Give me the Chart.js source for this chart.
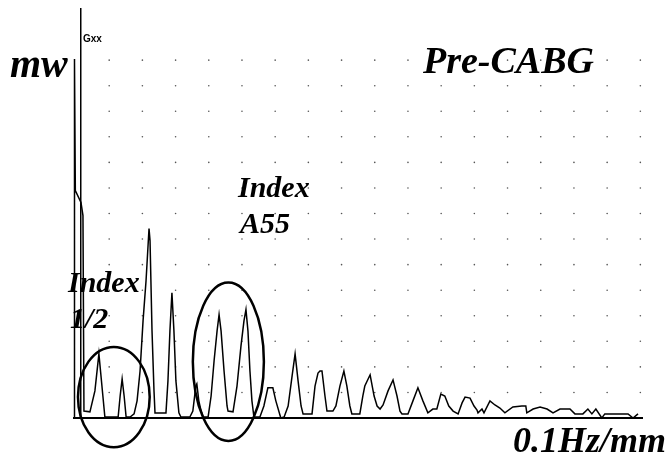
<!DOCTYPE html>
<html><head><meta charset="utf-8">
<script src="https://cdn.jsdelivr.net/npm/chart.js@4.4.0/dist/chart.umd.min.js"></script>
<style>html,body{margin:0;padding:0;background:#fff}canvas{display:block}</style>
</head><body>
<canvas id="c" width="672" height="459"></canvas>
<script>
// frequency (grid units, 0.1 Hz/mm scale) and power (mw, grid units)
const freq = [-0.06,-0.05,-0.04,-0.02,0.15,0.21,0.24,0.42,0.57,0.69,0.81,0.87,1.27,1.33,1.39,1.45,1.51,1.63,1.75,1.84,1.93,2.02,2.11,2.20,2.23,2.29,2.35,2.38,2.71,2.77,2.83,2.89,2.95,3.01,3.10,3.16,3.43,3.52,3.61,3.64,3.70,3.77,3.83,3.98,4.07,4.16,4.25,4.31,4.37,4.46,4.55,4.58,4.73,4.85,4.97,5.06,5.12,5.18,5.24,5.30,5.36,5.54,5.66,5.78,5.93,6.02,6.17,6.27,6.39,6.51,6.60,6.69,6.78,6.84,7.11,7.20,7.29,7.35,7.41,7.50,7.56,7.74,7.83,7.95,8.07,8.16,8.25,8.31,8.55,8.64,8.70,8.86,8.98,9.07,9.16,9.25,9.40,9.55,9.67,9.76,9.82,10.00,10.15,10.30,10.45,10.60,10.75,10.87,10.99,11.11,11.23,11.36,11.51,11.63,11.72,11.87,11.99,12.08,12.11,12.23,12.29,12.47,12.62,12.77,12.92,13.16,13.43,13.55,13.58,13.77,13.98,14.19,14.37,14.58,14.88,15.03,15.27,15.42,15.54,15.66,15.84,15.93,16.63,16.78,16.93];
const power = [0,14.04,13.92,8.90,8.43,7.92,0.27,0.24,1.06,2.51,0.86,0.04,0.04,0.86,1.53,0.86,0.04,0.04,0.16,0.67,1.84,3.80,5.37,7.41,6.94,3.41,1.06,0.20,0.20,1.45,3.41,4.90,3.41,1.45,0.20,0.04,0.04,0.27,1.25,1.33,0.67,0.27,0.04,0.04,0.86,2.24,3.41,4.04,3.41,1.84,0.47,0.27,0.24,1.25,2.82,3.80,4.24,3.41,1.84,0.67,0.04,0.04,0.47,1.18,1.18,0.67,0,0.04,0.47,1.65,2.51,1.45,0.47,0.16,0.16,1.25,1.76,1.84,1.84,0.86,0.27,0.27,0.47,1.25,1.84,1.25,0.47,0.16,0.16,0.86,1.25,1.69,0.86,0.47,0.35,0.51,1.06,1.49,0.86,0.27,0.16,0.16,0.67,1.18,0.67,0.20,0.35,0.35,0.94,0.86,0.47,0.27,0.16,0.59,0.82,0.78,0.47,0.31,0.20,0.35,0.20,0.67,0.51,0.39,0.20,0.43,0.47,0.47,0.20,0.35,0.43,0.35,0.20,0.35,0.35,0.16,0.16,0.35,0.16,0.35,0,0.16,0.16,0,0.16];
const gridX = [1,2,3,4,5,6,7,8,9,10,11,12,13,14,15,16,17];
const gridY = [1,2,3,4,5,6,7,8,9,10,11,12,13,14];

const trace = freq.map((f, i) => ({x: f, y: power[i]}));
const dots = [];
gridX.forEach(gx => gridY.forEach(gy => dots.push({x: gx, y: gy})));

const ellipses = [
  {cx: 1.14, cy: 0.82, rx: 1.08, ry: 1.96},
  {cx: 4.59, cy: 2.20, rx: 1.07, ry: 3.10}
];

const labels = [
  {t: 'mw', x: 10, y: 77, f: 'italic bold 40px "Liberation Serif"'},
  {t: 'Pre-CABG', x: 423, y: 73, f: 'italic bold 38px "Liberation Serif"'},
  {t: 'Index', x: 238, y: 197, f: 'italic bold 30px "Liberation Serif"'},
  {t: 'A55', x: 240, y: 233, f: 'italic bold 30px "Liberation Serif"'},
  {t: 'Index', x: 68, y: 292, f: 'italic bold 30px "Liberation Serif"'},
  {t: '1/2', x: 70, y: 328, f: 'italic bold 30px "Liberation Serif"'},
  {t: '0.1Hz/mm', x: 513, y: 452, f: 'italic bold 36px "Liberation Serif"'},
  {t: 'Gxx', x: 83, y: 42, f: 'bold 10px "Liberation Sans"'}
];

const overlay = {
  id: 'overlay',
  afterDatasetsDraw(chart) {
    const ctx = chart.ctx;
    const xs = chart.scales.x, ys = chart.scales.y;
    ctx.save();
    ctx.strokeStyle = '#000';
    ctx.lineWidth = 2.5;
    ellipses.forEach(e => {
      const cx = xs.getPixelForValue(e.cx), cy = ys.getPixelForValue(e.cy);
      const rx = Math.abs(xs.getPixelForValue(e.cx + e.rx) - cx);
      const ry = Math.abs(ys.getPixelForValue(e.cy + e.ry) - cy);
      ctx.beginPath();
      ctx.ellipse(cx, cy, rx, ry, 0, 0, Math.PI * 2);
      ctx.stroke();
    });
    ctx.fillStyle = '#000';
    ctx.textBaseline = 'alphabetic';
    labels.forEach(l => { ctx.font = l.f; ctx.fillText(l.t, l.x, l.y); });
    ctx.restore();
  }
};

new Chart(document.getElementById('c'), {
  type: 'scatter',
  data: {
    datasets: [
      {type: 'line', data: trace, borderColor: '#000', borderWidth: 1.5, pointRadius: 0, tension: 0, fill: false, clip: false, order: 1},
      {type: 'scatter', data: dots, pointRadius: 0.8, pointBorderWidth: 0, backgroundColor: '#555', order: 2}
    ]
  },
  options: {
    responsive: false,
    animation: false,
    devicePixelRatio: 1,
    layout: {padding: {left: 74, right: 30, top: 9, bottom: 33}},
    plugins: {legend: {display: false}, tooltip: {enabled: false}, title: {display: false}},
    scales: {
      x: {type: 'linear', min: -0.06, max: 17.05, grid: {display: false}, ticks: {display: false},
          border: {display: true, color: '#000', width: 2}},
      y: {type: 'linear', min: 0, max: 16, position: {x: 0.15}, grid: {display: false}, ticks: {display: false},
          border: {display: true, color: '#000', width: 1.5}}
    }
  },
  plugins: [overlay]
});
</script>
</body></html>
